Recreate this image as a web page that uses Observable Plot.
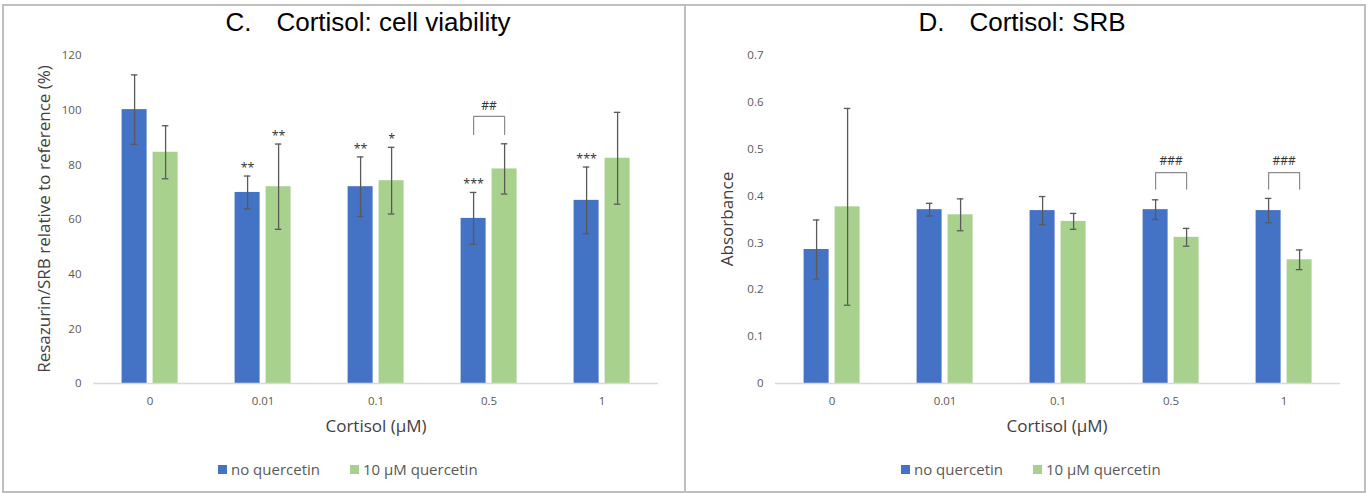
<!DOCTYPE html>
<html>
<head>
<meta charset="utf-8">
<script src="https://cdn.jsdelivr.net/npm/d3@7"></script>
<script src="https://cdn.jsdelivr.net/npm/@observablehq/plot@0.6"></script>
<style>
  body { margin: 0; background: #fff; font-family: "Open Sans", sans-serif; }
  #page { position: relative; width: 1370px; height: 493px; overflow: hidden; background: #fff; }
  .panel { position: absolute; box-sizing: border-box; border: 2px solid #bfbfbf; top: 4px; height: 489px; }
  .title { position: absolute; top: 7px; font-family: "Liberation Sans", Arial, sans-serif; font-size: 26px;
           line-height: 30px; color: #000; white-space: pre; transform: translateX(-50%); }
  .title .gap { display: inline-block; width: 25px; }
  .xtitle { position: absolute; top: 416px; font-size: 17px; line-height: 20px; color: #404040;
            white-space: nowrap; transform: translateX(-50%); }
  .ytitle { position: absolute; font-size: 17px; line-height: 20px; color: #404040; white-space: nowrap;
            transform: translate(-50%, -50%) rotate(-90deg); }
  .legend { position: absolute; top: 459px; height: 21px; display: flex; align-items: center;
            font-size: 15px; line-height: 21px; color: #595959; }
  .legend .item { display: flex; align-items: center; margin-right: 30px; }
  .legend .sw { display: inline-block; width: 9px; height: 9px; margin-right: 4px; }
  .chart { position: absolute; top: 40px; }
</style>
</head>
<body>
<div id="page"></div>
<script>
// Cortisol concentrations (µM) and treatment series
const cortisol = ["0", "0.01", "0.1", "0.5", "1"];
const series = ["no quercetin", "10 μM quercetin"];
const seriesColors = ["#4472C4", "#A9D18E"];

// Panel C: resazurin/SRB relative to reference (%), mean and error
const viabilityNoQ = [100.2, 69.9, 72.0, 60.4, 67.0];
const viabilityNoQErr = [12.7, 6.0, 10.9, 9.5, 12.2];
const viabilityQ = [84.6, 72.0, 74.2, 78.5, 82.4];
const viabilityQErr = [9.7, 15.6, 12.2, 9.2, 16.8];
const viabilityNoQStars = ["", "**", "**", "***", "***"];
const viabilityQStars = ["", "**", "*", "", ""];
const viabilityTicks = [0, 20, 40, 60, 80, 100, 120];
// quercetin vs no quercetin comparisons: group, label, bracket foot/top and label level
const viabilityPairs = [{cortisol: "0.5", label: "##", foot: 91.1, top: 97.7, labelAt: 101.3}];

// Panel D: SRB absorbance, mean and error
const srbNoQ = [0.286, 0.371, 0.369, 0.371, 0.369];
const srbNoQErr = [0.063, 0.0135, 0.030, 0.021, 0.026];
const srbQ = [0.377, 0.360, 0.346, 0.312, 0.264];
const srbQErr = [0.210, 0.034, 0.017, 0.019, 0.021];
const srbNoQStars = ["", "", "", "", ""];
const srbQStars = ["", "", "", "", ""];
const srbTicks = [0, 0.1, 0.2, 0.3, 0.4, 0.5, 0.6, 0.7];
const srbPairs = [
  {cortisol: "0.5", label: "###", foot: 0.415, top: 0.45, labelAt: 0.474},
  {cortisol: "1", label: "###", foot: 0.415, top: 0.45, labelAt: 0.474}
];

function tidy(noQ, noQErr, q, qErr, noQStars, qStars) {
  return cortisol.flatMap((c, i) => [
    {cortisol: c, series: series[0], value: noQ[i], err: noQErr[i], stars: noQStars[i]},
    {cortisol: c, series: series[1], value: q[i], err: qErr[i], stars: qStars[i]}
  ]);
}

function groupedChart({rows, pairs, yDomain, yTicks, marginLeft, marginRight}) {
  const bracketPath = pairs.flatMap((p, k) => [
    {id: k, cortisol: p.cortisol, series: series[0], y: p.foot},
    {id: k, cortisol: p.cortisol, series: series[0], y: p.top},
    {id: k, cortisol: p.cortisol, series: series[1], y: p.top},
    {id: k, cortisol: p.cortisol, series: series[1], y: p.foot}
  ]);
  const lo = (d) => d.value - d.err;
  const hi = (d) => d.value + d.err;
  return Plot.plot({
    width: 685,
    height: 400,
    marginTop: 15,
    marginBottom: 57,
    marginLeft,
    marginRight,
    style: {fontFamily: "'Open Sans', sans-serif", fontSize: "11.5px", color: "#595959", background: "transparent", overflow: "visible"},
    fx: {domain: cortisol, padding: 0, axis: "bottom", tickSize: 0, tickPadding: 13.5, label: null},
    x: {domain: series, paddingInner: 0.203, paddingOuter: 0.871, axis: null},
    y: {domain: yDomain, ticks: yTicks, tickFormat: d3.format("~g"), tickSize: 0, tickPadding: 12, label: null},
    color: {domain: series, range: seriesColors},
    marks: [
      Plot.barY(rows, {fx: "cortisol", x: "series", y: "value", fill: "series"}),
      Plot.ruleY([0], {stroke: "#d9d9d9", strokeWidth: 1.3}),
      Plot.ruleX(rows, {fx: "cortisol", x: "series", y1: lo, y2: hi, stroke: "#595959", strokeWidth: 1.3}),
      Plot.tickY(rows, {fx: "cortisol", x: "series", y: hi, stroke: "#595959", strokeWidth: 1.3, insetLeft: 9.25, insetRight: 9.25}),
      Plot.tickY(rows, {fx: "cortisol", x: "series", y: lo, stroke: "#595959", strokeWidth: 1.3, insetLeft: 9.25, insetRight: 9.25}),
      Plot.text(rows, {fx: "cortisol", x: "series", y: hi, text: "stars", dy: -8, fontSize: 12.5, fill: "#333"}),
      Plot.line(bracketPath, {fx: "cortisol", x: "series", y: "y", z: "id", stroke: "#8c8c8c", strokeWidth: 1.2, strokeLinejoin: "round"}),
      Plot.text(pairs, {fx: "cortisol", y: "labelAt", text: "label", fontSize: 12, fill: "#333"})
    ]
  });
}

const page = document.getElementById("page");

function addPanel({left, width, title, prefix, titleCenter, svg, svgLeft, yTitle, yTitleX, xTitleCenter, legendLeft}) {
  const panel = document.createElement("div");
  panel.className = "panel";
  panel.style.left = left + "px";
  panel.style.width = width + "px";
  page.appendChild(panel);

  const holder = document.createElement("div");
  holder.className = "chart";
  holder.style.left = svgLeft + "px";
  holder.appendChild(svg);
  page.appendChild(holder);

  const t = document.createElement("div");
  t.className = "title";
  t.style.left = titleCenter + "px";
  t.innerHTML = `${prefix}<span class="gap"></span>${title}`;
  page.appendChild(t);

  const yt = document.createElement("div");
  yt.className = "ytitle";
  yt.style.left = yTitleX + "px";
  yt.style.top = "219px";
  yt.textContent = yTitle;
  page.appendChild(yt);

  const xt = document.createElement("div");
  xt.className = "xtitle";
  xt.style.left = xTitleCenter + "px";
  xt.textContent = "Cortisol (μM)";
  page.appendChild(xt);

  const lg = document.createElement("div");
  lg.className = "legend";
  lg.style.left = legendLeft + "px";
  lg.innerHTML = series.map((s, i) =>
    `<span class="item"><span class="sw" style="background:${seriesColors[i]}"></span>${s}</span>`).join("");
  page.appendChild(lg);
}

const viabilityChart = groupedChart({
  rows: tidy(viabilityNoQ, viabilityNoQErr, viabilityQ, viabilityQErr, viabilityNoQStars, viabilityQStars),
  pairs: viabilityPairs,
  yDomain: [0, 120],
  yTicks: viabilityTicks,
  marginLeft: 92.4,
  marginRight: 26.3
});

const srbChart = groupedChart({
  rows: tidy(srbNoQ, srbNoQErr, srbQ, srbQErr, srbNoQStars, srbQStars),
  pairs: srbPairs,
  yDomain: [0, 0.7],
  yTicks: srbTicks,
  marginLeft: 87.4,
  marginRight: 28.4
});

addPanel({
  left: 2, width: 684, prefix: "C.", title: "Cortisol: cell viability", titleCenter: 368,
  svg: viabilityChart, svgLeft: 0, yTitle: "Resazurin/SRB relative to reference (%)", yTitleX: 44,
  xTitleCenter: 376, legendLeft: 218
});
addPanel({
  left: 684, width: 682, prefix: "D.", title: "Cortisol: SRB", titleCenter: 1022,
  svg: srbChart, svgLeft: 685, yTitle: "Absorbance", yTitleX: 727,
  xTitleCenter: 1057, legendLeft: 901
});
</script>
</body>
</html>
